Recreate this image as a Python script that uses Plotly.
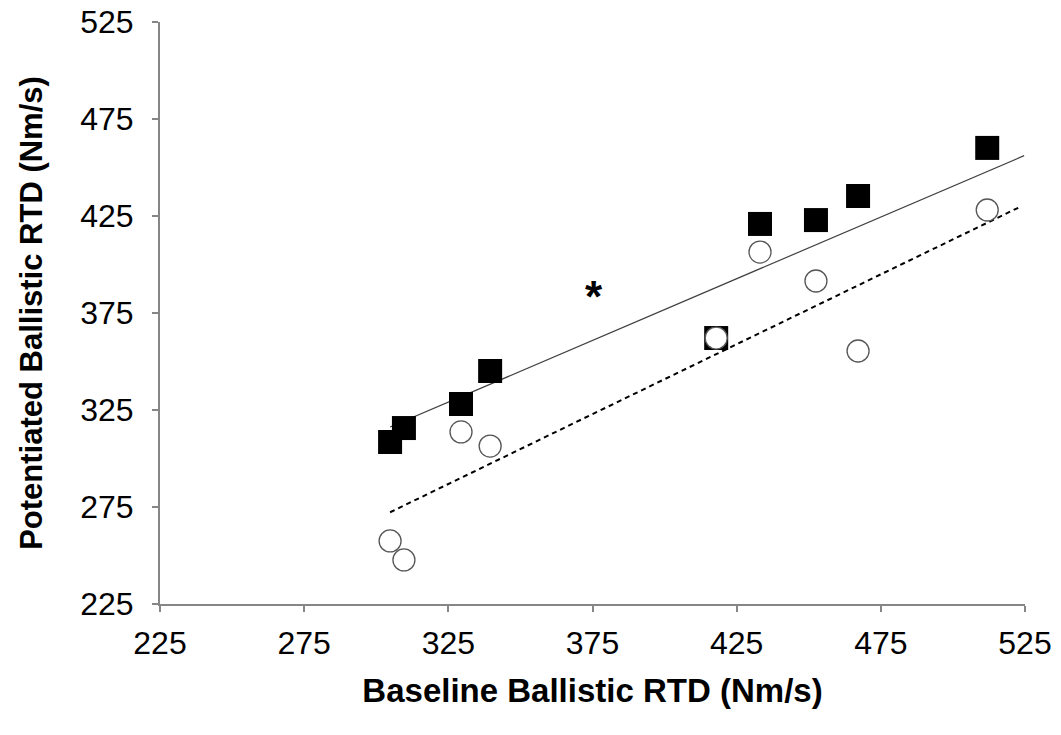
import plotly.graph_objects as go

# Data
baseline = [304.8, 309.6, 329.4, 339.5, 417.9, 433.1, 452.5, 467.1, 511.9]
potentiated_filled = [308.5, 315.7, 328.1, 345.1, 362.1, 420.9, 422.9, 435.3, 460.1]
potentiated_open = [257.5, 247.7, 313.7, 306.4, 362.1, 406.4, 391.5, 355.4, 428.1]

# trend lines (endpoints)
solid_x = [304.8, 524.7]
solid_y = [316.2, 456.1]
dashed_x = [304.8, 523.0]
dashed_y = [272.3, 429.5]

tick_vals = [225, 275, 325, 375, 425, 475, 525]
star_x, star_y = 375.5, 386.9

font = "Arial, Liberation Sans, sans-serif"

fig = go.Figure()
fig.add_trace(go.Scatter(x=solid_x, y=solid_y, mode="lines",
                         line=dict(color="#404040", width=1.2), showlegend=False))
fig.add_trace(go.Scatter(x=dashed_x, y=dashed_y, mode="lines",
                         line=dict(color="black", width=2, dash="5px,4px"), showlegend=False))
fig.add_trace(go.Scatter(x=baseline, y=potentiated_filled, mode="markers",
                         marker=dict(symbol="square", size=24, color="black",
                                     line=dict(width=0)), showlegend=False))
fig.add_trace(go.Scatter(x=baseline, y=potentiated_open, mode="markers",
                         marker=dict(symbol="circle", size=22, color="white",
                                     line=dict(width=1.3, color="#555555")), showlegend=False))

fig.add_annotation(x=star_x, y=star_y, text="<b>*</b>", showarrow=False, yshift=-7,
                   font=dict(family=font, size=44, color="black"))

axis_common = dict(range=[225, 525], tickvals=tick_vals, showgrid=False, zeroline=False,
                   showline=True, linecolor="#868686", linewidth=2,
                   ticks="outside", ticklen=6, tickwidth=2, tickcolor="#868686",
                   tickfont=dict(family=font, size=32, color="black"))

fig.update_layout(
    width=1061, height=735,
    margin=dict(l=160, r=36, t=22, b=131),
    plot_bgcolor="white", paper_bgcolor="white",
    xaxis=dict(**axis_common, ticklabelstandoff=4, automargin="bottom",
               title=dict(text="<b>Baseline Ballistic RTD (Nm/s)</b>", standoff=18,
                          font=dict(family=font, size=33, color="black"))),
    yaxis=dict(**axis_common, ticklabelstandoff=12, automargin="left",
               title=dict(text="<b>Potentiated Ballistic RTD (Nm/s)</b>", standoff=28,
                          font=dict(family=font, size=31, color="black"))),
)

fig.write_html("out.html")
